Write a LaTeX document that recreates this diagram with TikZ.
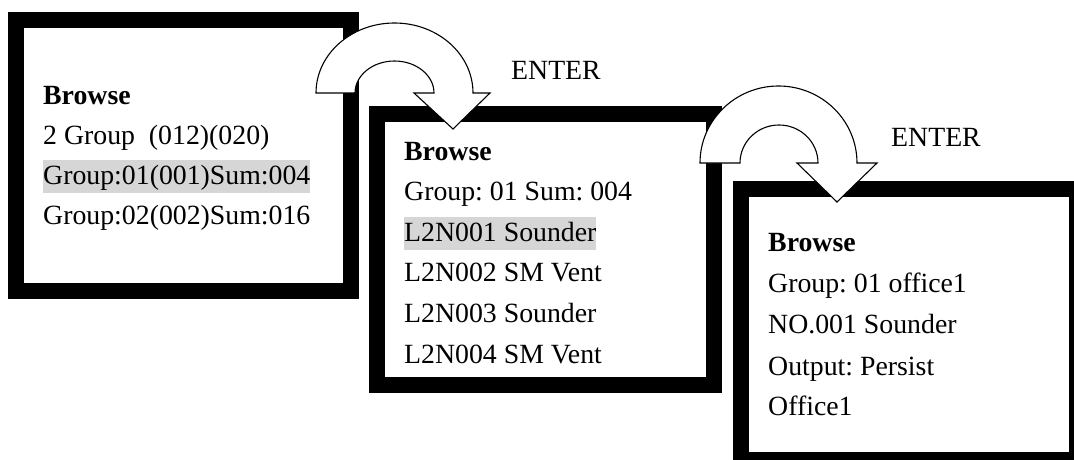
\documentclass[tikz,border=0pt]{standalone}
\usepackage{fontspec}
\setmainfont{Liberation Serif}
\frenchspacing
\begin{document}
\begin{tikzpicture}[x=1pt,y=1pt,
  screen/.style={draw=black, line width=16pt, fill=white, minimum width=#1, minimum height=271pt, inner sep=0pt},
  line/.style={anchor=base west, inner sep=0pt, font=\fontsize{27.8}{27.8}\selectfont},
  title/.style={line, font=\fontsize{27.8}{27.8}\selectfont\bfseries},
  hl/.style={line, fill=black!16, text height=24pt, text depth=9pt},
  uturn/.style={draw=black, line width=1.1pt, fill=white, line join=miter}
]
\useasboundingbox (0,0) rectangle (1074,459);
\begin{scope}
\clip (0,0) rectangle (1074,459);
% screens
\node[screen=335pt] (b1) at (183.5,303.5) {};
\node[screen=337pt] (b2) at (545.5,209.5) {};
\node[screen=336.5pt, minimum height=271.5pt] (b3) at (908.75,134.75) {};

% U-turn arrow 1
\draw[uturn] (316,366) arc[start angle=180, end angle=0, x radius=78.5, y radius=70]
  -- (490,366) -- (453,330) -- (414,366) -- (434,366)
  arc[start angle=0, end angle=180, x radius=39.5, y radius=32] -- cycle;
% U-turn arrow 2
\draw[uturn] (700,296) arc[start angle=180, end angle=0, x radius=78.5, y radius=77]
  -- (877,296) -- (837,257) -- (797,296) -- (818,296)
  arc[start angle=0, end angle=180, x radius=39, y radius=38] -- cycle;
\end{scope}

% labels
\node[line] (e1) at (511,379) {ENTER};
\node[line] (e2) at (891,313) {ENTER};

% screen 1
\node[title] (t1) at (43,355) {Browse};
\node[line] (t1a) at (43,315) {2 Group~~(012)(020)};
\node[hl] (t1b) at (43,275) {Group:01(001)Sum:004};
\node[line] (t1c) at (43,235) {Group:02(002)Sum:016};

% screen 2
\node[title] (t2) at (404,299) {Browse};
\node[line] (t2a) at (404,259) {Group: 01 Sum: 004};
\node[hl] (t2b) at (404,218) {L2N001 Sounder};
\node[line] (t2c) at (404,178) {L2N002 SM Vent};
\node[line] (t2d) at (404,137) {L2N003 Sounder};
\node[line] (t2e) at (404,96) {L2N004 SM Vent};

% screen 3
\node[title] (t3) at (768,208) {Browse};
\node[line] (t3a) at (768,167) {Group: 01 office1};
\node[line] (t3b) at (768,126) {NO.001 Sounder};
\node[line] (t3c) at (768,84) {Output: Persist};
\node[line] (t3d) at (768,44) {Office1};
\end{tikzpicture}
\end{document}
